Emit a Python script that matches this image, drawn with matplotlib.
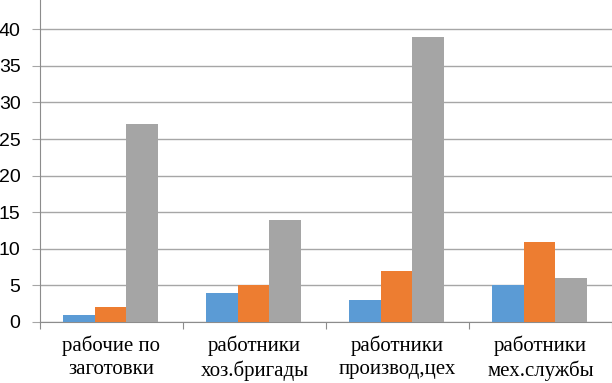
import matplotlib
matplotlib.use('Agg')
import matplotlib.pyplot as plt
import numpy as np

categories = ['рабочие по\nзаготовки', 'работники\nхоз.бригады',
              'работники\nпроизвод,цех', 'работники\nмех.службы']
series1 = [1, 4, 3, 5]
series2 = [2, 5, 7, 11]
series3 = [27, 14, 39, 6]
colors = ['#5B9BD5', '#ED7D31', '#A5A5A5']

fig = plt.figure(figsize=(6.12, 3.83), dpi=100)
ax = fig.add_axes([40/612, 1 - 322/383, 1 - 40/612, 322/383])

x = np.arange(len(categories))
w = 0.22
for i, vals in enumerate([series1, series2, series3]):
    ax.bar(x + (i - 1) * w - 0.007, vals, width=w, color=colors[i], zorder=3)

ax.set_xlim(-0.5, 3.5)
ax.set_ylim(0, 44)
ax.set_yticks(range(0, 45, 5))
ax.yaxis.grid(True, color='#A6A6A6', linewidth=1, zorder=0)

# category separators as tick marks
ax.set_xticks(np.arange(-0.5, 4, 1))
ax.set_xticklabels([])
ax.set_xticks(x, minor=True)
ax.set_xticklabels(categories, minor=True)
for lab in ax.get_xticklabels(minor=True):
    lab.set_fontfamily(['Liberation Serif', 'DejaVu Serif'])
    lab.set_fontsize(15)
    lab.set_linespacing(1.25)
ax.tick_params(axis='x', which='minor', length=0, pad=10)
ax.tick_params(axis='x', which='major', length=5, color='#8C8C8C', direction='out')
ax.tick_params(axis='y', length=6, color='#A6A6A6', pad=8, labelsize=14)
for lab in ax.get_yticklabels():
    lab.set_fontfamily(['Liberation Sans', 'DejaVu Sans'])

for s in ['top', 'right']:
    ax.spines[s].set_visible(False)
ax.spines['left'].set_color('#8C8C8C')
ax.spines['bottom'].set_color('#8C8C8C')

plt.savefig('out.png', dpi=100)
